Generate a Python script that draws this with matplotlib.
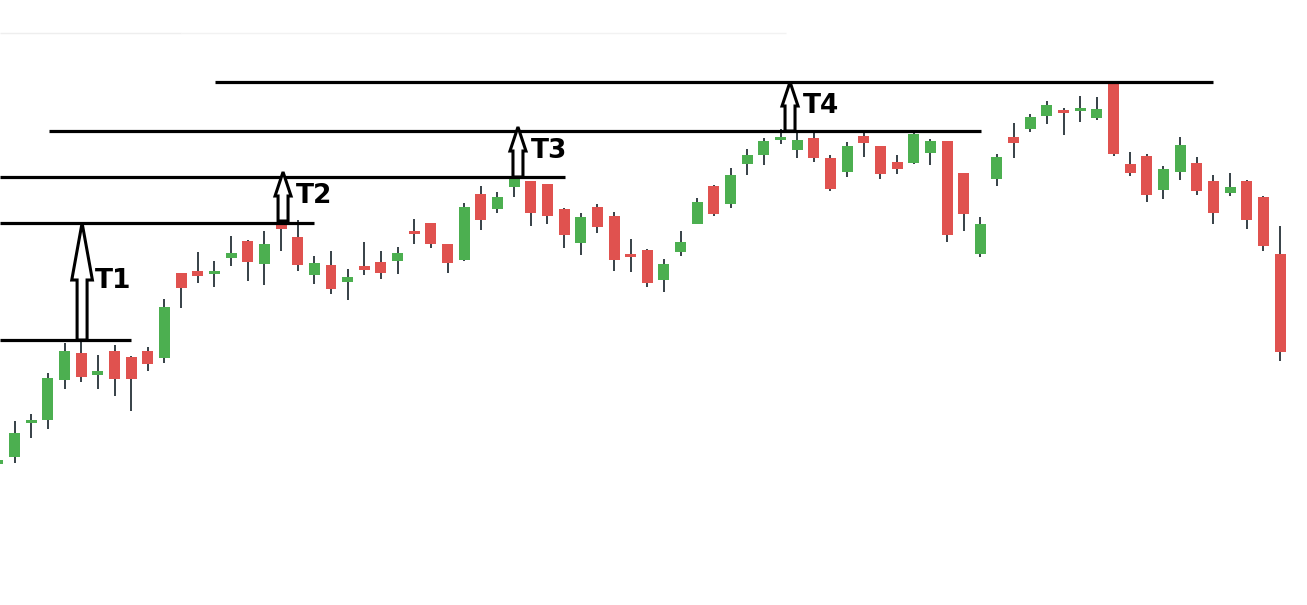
import numpy as np
import matplotlib
matplotlib.use("Agg")
import matplotlib.pyplot as plt
from matplotlib.patches import Polygon

# candle data, price units (higher = up), one per bar
opens = [136, 143, 177, 180, 220, 247, 225, 249, 243, 249, 242, 327, 329, 326, 342, 359, 336, 376, 363, 325,
         335, 318, 334, 338, 339, 369, 377, 356, 340, 406, 391, 413, 419, 416, 391, 357, 393, 384, 346, 350,
         320, 348, 376, 414, 396, 436, 445, 460, 450, 462, 442, 428, 464, 454, 438, 437, 447, 459, 427, 346,
         421, 463, 471, 484, 490, 489, 482, 519, 436, 444, 410, 428, 437, 419, 407, 419, 403, 346]
closes = [140, 167, 180, 222, 249, 223, 229, 221, 221, 236, 293, 312, 324, 329, 347, 338, 356, 371, 335, 337,
          311, 323, 330, 327, 347, 366, 356, 337, 393, 380, 403, 421, 387, 384, 365, 383, 373, 340, 343, 317,
          336, 358, 398, 386, 425, 445, 459, 463, 460, 442, 411, 454, 457, 426, 431, 466, 459, 365, 386, 376,
          443, 457, 483, 495, 487, 492, 491, 446, 427, 405, 431, 455, 409, 387, 413, 380, 354, 248]
highs = [142, 179, 186, 227, 257, 267, 245, 255, 244, 253, 301, 327, 348, 339, 364, 360, 369, 376, 380, 344,
         349, 331, 358, 349, 353, 381, 377, 356, 397, 414, 408, 425, 419, 416, 392, 387, 396, 388, 361, 351,
         341, 369, 402, 415, 432, 451, 462, 471, 468, 468, 445, 458, 468, 454, 445, 468, 461, 430, 421, 383,
         446, 477, 486, 499, 492, 504, 503, 519, 448, 446, 434, 463, 443, 425, 427, 420, 404, 374]
lows = [136, 137, 162, 171, 211, 218, 211, 204, 189, 229, 237, 292, 317, 313, 334, 319, 315, 349, 329, 316,
        306, 300, 325, 321, 326, 356, 352, 327, 339, 370, 387, 403, 374, 376, 352, 345, 367, 329, 328, 313,
        308, 344, 376, 384, 392, 425, 435, 456, 442, 438, 409, 423, 443, 421, 426, 436, 435, 358, 369, 343,
        414, 442, 468, 476, 465, 478, 480, 444, 424, 398, 401, 420, 405, 376, 404, 371, 349, 239]

# horizontal levels: (price, first bar, last bar)
levels = [260, 377, 423, 469, 518]
level_start = [0.12, 0.12, 0.12, 3.06, 13.03]
level_end = [7.99, 18.98, 34.05, 59.04, 72.97]

# target arrows: bar position, from level, to level
targets = ["T1", "T2", "T3", "T4"]
target_x = [5.05, 17.12, 31.23, 47.57]
target_from = [260, 379, 423, 469]
target_to = [377, 428, 473, 518]

fig = plt.figure(figsize=(13.07, 6.05), dpi=100)
ax = fig.add_axes([0, 0, 1, 1])
ax.set_xlim(0.12, 78.62)
ax.set_ylim(-5, 600)
ax.axis("off")

green, red = "#4caf50", "#e0524f"
x = np.arange(len(opens))
for i in x:
    o, c, h, l = opens[i], closes[i], highs[i], lows[i]
    col = green if c >= o else red
    ax.vlines(i, l, h, color="#263238", lw=1.3, zorder=1)
    ax.bar(i, max(abs(c - o), 2.5), bottom=min(o, c), width=0.66, color=col, zorder=2)

# faint separators at the top
ax.hlines(567, 0.12, 11, color="#eeeeee", lw=1)
ax.hlines(567, 11, 47.3, color="#f2f2f2", lw=1)

for lv, a, b in zip(levels, level_start, level_end):
    ax.hlines(lv, a, b, color="black", lw=2.3, zorder=3)

for k, (name, xc, y0, y1) in enumerate(zip(targets, target_x, target_from, target_to)):
    sw = 0.3
    hw = 0.62 if k == 0 else 0.48
    hh = 57 if k == 0 else 24
    pts = [(xc - sw, y0), (xc + sw, y0), (xc + sw, y1 - hh), (xc + hw, y1 - hh),
           (xc, y1), (xc - hw, y1 - hh), (xc - sw, y1 - hh)]
    ax.add_patch(Polygon(pts, closed=True, facecolor="white", edgecolor="black",
                         lw=2.2, zorder=4))
    ty = (y0 + y1) / 2 if k == 0 else y1 - 24
    ax.text(xc + 0.75, ty - (0 if k == 0 else 0), name, fontsize=19, fontweight="bold",
            va="center", ha="left", zorder=5)

fig.savefig("out.png", dpi=100)
